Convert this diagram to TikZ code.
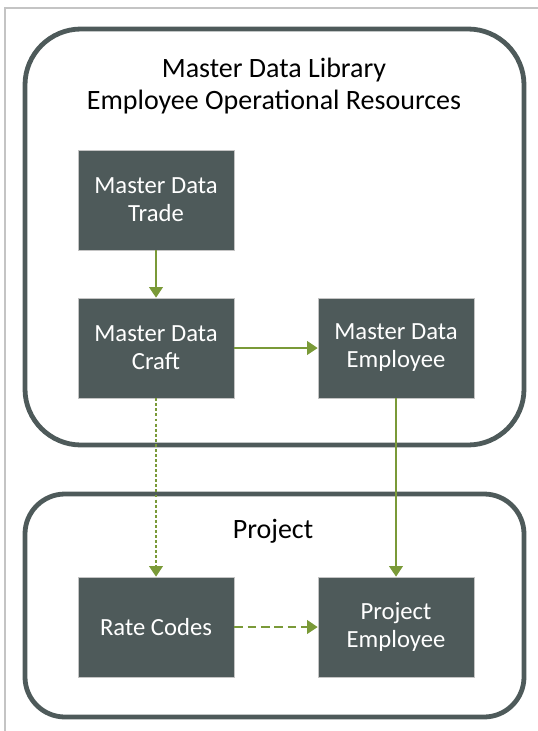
\documentclass[tikz,border=0pt]{standalone}
\usepackage{fontspec}
\setmainfont{Carlito}
\usetikzlibrary{arrows.meta}
\definecolor{boxSlate}{HTML}{4E5A5A}
\definecolor{arrGreen}{HTML}{7A9A38}
\definecolor{frameGray}{HTML}{C4C4C4}

\tikzset{
  mdbox/.style={fill=boxSlate,draw=frameGray,line width=0.4pt,minimum width=117pt,
    minimum height=75pt,text=white,align=center,font=\fontsize{18.5}{21}\selectfont},
  grp/.style={draw=boxSlate,line width=3.6pt},
  flow/.style={draw=arrGreen,line width=2.2pt,-{Triangle[length=8pt,width=10pt]}}
}

\begin{document}
\begin{tikzpicture}[x=0.75pt,y=-0.75pt]
  \useasboundingbox (0,0) rectangle (538,731);
  \draw[frameGray,line width=1pt] (5,731) -- (5,8) -- (538,8);
  \draw[grp,rounded corners=42pt] (25,29) rectangle (524,445);
  \draw[grp,rounded corners=30pt] (25,494) rectangle (524,717);

  \node[align=center,font=\fontsize{21}{24}\selectfont] (libTitle) at (274,86)
    {Master Data Library\\Employee Operational Resources};
  \node[font=\fontsize{21}{24}\selectfont] (projTitle) at (273,531) {Project};

  \node[mdbox] (trade) at (156,200) {Master Data\\Trade};
  \node[mdbox] (craft) at (156,348) {Master Data\\Craft};
  \node[mdbox] (emp) at (396,348) {Master Data\\Employee};
  \node[mdbox] (rate) at (156,627) {Rate Codes};
  \node[mdbox] (pemp) at (396,627) {Project\\Employee};

  \draw[flow] (trade) -- (craft);
  \draw[flow] (craft) -- (emp);
  \draw[flow] (emp) -- (pemp);
  \draw[flow,dash pattern=on 2.2pt off 1.6pt] (craft) -- (rate);
  \draw[flow,dash pattern=on 6.5pt off 3.5pt] (rate) -- (pemp);
\end{tikzpicture}
\end{document}
